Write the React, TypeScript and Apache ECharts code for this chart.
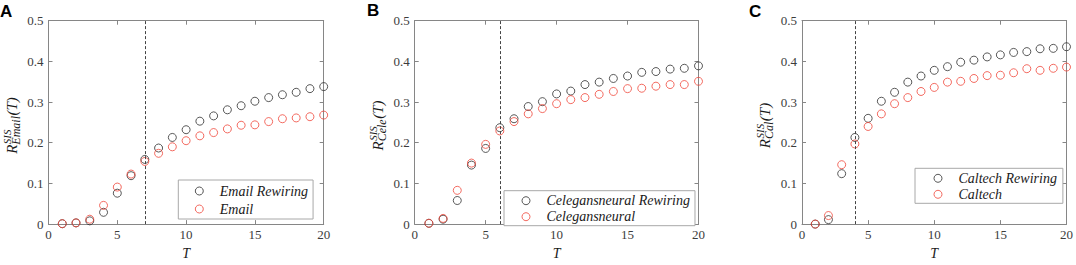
import React, { useEffect, useRef } from "react";
import * as echarts from "echarts";

const T = [1, 2, 3, 4, 5, 6, 7, 8, 9, 10, 11, 12, 13, 14, 15, 16, 17, 18, 19, 20];

const emailRewiring = [0.001, 0.003, 0.008, 0.029, 0.076, 0.119, 0.159, 0.187, 0.213, 0.232, 0.253, 0.266, 0.281, 0.291, 0.302, 0.311, 0.318, 0.324, 0.333, 0.338];
const email = [0.001, 0.003, 0.012, 0.046, 0.091, 0.123, 0.154, 0.174, 0.19, 0.205, 0.217, 0.225, 0.234, 0.243, 0.244, 0.252, 0.259, 0.261, 0.264, 0.268];

const celeRewiring = [0.002, 0.012, 0.058, 0.145, 0.186, 0.237, 0.259, 0.289, 0.301, 0.32, 0.327, 0.343, 0.349, 0.358, 0.364, 0.373, 0.375, 0.381, 0.383, 0.389];
const cele = [0.002, 0.014, 0.083, 0.15, 0.196, 0.229, 0.252, 0.271, 0.284, 0.296, 0.306, 0.311, 0.319, 0.326, 0.333, 0.334, 0.339, 0.343, 0.343, 0.351];

const caltechRewiring = [0.0, 0.011, 0.124, 0.213, 0.26, 0.302, 0.324, 0.349, 0.364, 0.378, 0.387, 0.398, 0.403, 0.411, 0.416, 0.422, 0.424, 0.431, 0.432, 0.436];
const caltech = [0.0, 0.021, 0.146, 0.197, 0.24, 0.271, 0.296, 0.311, 0.326, 0.336, 0.349, 0.351, 0.358, 0.365, 0.366, 0.372, 0.382, 0.378, 0.383, 0.386];

const panelLetters = ["A", "B", "C"];
const seriesNames = [
  ["Email Rewiring", "Email"],
  ["Celegansneural Rewiring", "Celegansneural"],
  ["Caltech Rewiring", "Caltech"],
];
const subscripts = ["Email", "Cele", "Cal"];
const thresholds = [7, 6, 4];
const X_MIN = 0, X_MAX = 20, X_STEP = 5;
const Y_MIN = 0, Y_MAX = 0.5, Y_STEP = 0.1;

const panelData = [
  [emailRewiring, email],
  [celeRewiring, cele],
  [caltechRewiring, caltech],
];

// layout (positions only)
const grids = [
  { left: 48.5, top: 20.7, width: 275.2, height: 209.6 },
  { left: 414.7, top: 20.7, width: 283.8, height: 209.6 },
  { left: 802, top: 20.7, width: 268, height: 209.6 },
];
const legendPos = [
  { left: 178.3, top: 180, gap: 4, pad: [4, 5, 3, 16.5] },
  { left: 504, top: 190.7, gap: 2, pad: [3, 5, 2, 17.5] },
  { left: 915, top: 168.3, gap: 2, pad: [3, 6, 2, 18.5] },
];
const letterPos = [
  { x: 0, y: 11 },
  { x: 367, y: 10.5 },
  { x: 749, y: 11 },
];
const titleX = [12, 378, 765];

const SERIF = "Liberation Serif";
const AXIS_COLOR = "#868686";
const LABEL_COLOR = "#3c3c3c";
const BLACK = "#2e2e2e";
const RED = "#f0463a";

function measure(text: string, size: number): number {
  const c = document.createElement("canvas").getContext("2d");
  if (!c) return text.length * size * 0.5;
  c.font = `italic ${size}px "${SERIF}"`;
  return c.measureText(text).width;
}

function yTitle(i: number) {
  const g = grids[i];
  const mainSize = 15;
  const supSize = 11;
  const subSize = 12;
  const wR = measure("R", mainSize);
  const wSup = measure("SIS", supSize);
  const wSub = measure(subscripts[i], subSize);
  const wT = measure("(T)", mainSize);
  const xAfter = wR + Math.max(wSup, wSub) + 0.5;
  const L = xAfter + wT;
  const cy = g.top + g.height / 2;
  const mk = (text: string, x: number, y: number, size: number) => ({
    type: "text",
    x,
    y,
    style: {
      text,
      fontFamily: SERIF,
      fontStyle: "italic",
      fontSize: size,
      fill: "#1a1a1a",
      align: "left",
      verticalAlign: "middle",
      textAlign: "left",
      textVerticalAlign: "middle",
    },
  });
  return {
    type: "group",
    x: titleX[i],
    y: cy + L / 2,
    rotation: Math.PI / 2,
    silent: true,
    children: [
      mk("R", 0, 0, mainSize),
      mk("SIS", wR + 0.5, -5.5, supSize),
      mk(subscripts[i], wR, 4, subSize),
      mk("(T)", xAfter, 0, mainSize),
    ],
  };
}

function buildOption() {
  const xAxis: any[] = [];
  const yAxis: any[] = [];
  const series: any[] = [];
  const legend: any[] = [];
  const graphic: any[] = [];

  grids.forEach((g, i) => {
    const commonTick = { show: true, inside: true, length: 4, lineStyle: { color: AXIS_COLOR, width: 1 } };
    const commonLine = { show: true, onZero: false, lineStyle: { color: AXIS_COLOR, width: 1 } };
    const labelStyle = { fontFamily: SERIF, fontSize: 13, color: LABEL_COLOR };
    xAxis.push({
      gridIndex: i, type: "value", min: X_MIN, max: X_MAX, interval: X_STEP, position: "bottom",
      axisLine: commonLine, axisTick: commonTick, splitLine: { show: false },
      axisLabel: { ...labelStyle, margin: 4 },
      name: "T", nameLocation: "middle", nameGap: 19,
      nameTextStyle: { fontFamily: SERIF, fontStyle: "italic", fontSize: 14, color: "#1a1a1a" },
    });
    xAxis.push({
      gridIndex: i, type: "value", min: X_MIN, max: X_MAX, interval: X_STEP, position: "top",
      axisLine: commonLine, axisTick: commonTick, splitLine: { show: false }, axisLabel: { show: false },
    });
    yAxis.push({
      gridIndex: i, type: "value", min: Y_MIN, max: Y_MAX, interval: Y_STEP, position: "left",
      axisLine: commonLine, axisTick: commonTick, splitLine: { show: false },
      axisLabel: { ...labelStyle, margin: 5 },
    });
    yAxis.push({
      gridIndex: i, type: "value", min: Y_MIN, max: Y_MAX, interval: Y_STEP, position: "right",
      axisLine: commonLine, axisTick: commonTick, splitLine: { show: false }, axisLabel: { show: false },
    });

    const [rew, orig] = panelData[i];
    const [nRew, nOrig] = seriesNames[i];
    const colors = [BLACK, RED];
    [rew, orig].forEach((vals, k) => {
      const s: any = {
        type: "scatter",
        name: [nRew, nOrig][k],
        xAxisIndex: i * 2,
        yAxisIndex: i * 2,
        symbol: "circle",
        symbolSize: 8,
        itemStyle: { color: "rgba(0,0,0,0)", borderColor: colors[k], borderWidth: 1 },
        data: T.map((t, j) => [t, vals[j]]),
        z: 3 + k,
      };
      if (k === 1) {
        s.markLine = {
          silent: true,
          symbol: ["none", "none"],
          label: { show: false },
          lineStyle: { color: "#444", width: 1, type: [3, 2] },
          data: [{ xAxis: thresholds[i] }],
        };
      }
      series.push(s);
    });

    const lp = legendPos[i];
    legend.push({
      orient: "vertical",
      left: lp.left,
      top: lp.top,
      padding: lp.pad,
      itemGap: lp.gap,
      itemWidth: 31,
      itemHeight: 8,
      borderColor: "#a8a8a8",
      borderWidth: 1,
      backgroundColor: "#fff",
      selectedMode: false,
      textStyle: { fontFamily: SERIF, fontStyle: "italic", fontSize: 14, lineHeight: 14, color: "#1a1a1a" },
      data: [nRew, nOrig].map((n, k) => ({
        name: n,
        icon: "circle",
        itemStyle: { color: "rgba(0,0,0,0)", borderColor: colors[k], borderWidth: 1 },
      })),
    });

    graphic.push({
      type: "text",
      x: letterPos[i].x,
      y: letterPos[i].y,
      silent: true,
      style: {
        text: panelLetters[i],
        fontFamily: "Liberation Sans",
        fontWeight: "bold",
        fontSize: 17,
        fill: "#000",
        align: "left",
        verticalAlign: "middle",
        textAlign: "left",
        textVerticalAlign: "middle",
      },
    });
    graphic.push(yTitle(i));
  });

  return {
    animation: false,
    backgroundColor: "#fff",
    grid: grids.map((g) => ({ ...g, containLabel: false })),
    xAxis,
    yAxis,
    legend,
    series,
    graphic,
  };
}

export default function App() {
  const ref = useRef<HTMLDivElement>(null);
  useEffect(() => {
    if (!ref.current) return;
    const chart = echarts.init(ref.current, undefined, { renderer: "svg" });
    chart.setOption(buildOption() as any);
    return () => chart.dispose();
  }, []);
  return (
    <div
      ref={ref}
      style={{ position: "fixed", left: 0, top: 0, width: 1076, height: 265, background: "#fff" }}
    />
  );
}
